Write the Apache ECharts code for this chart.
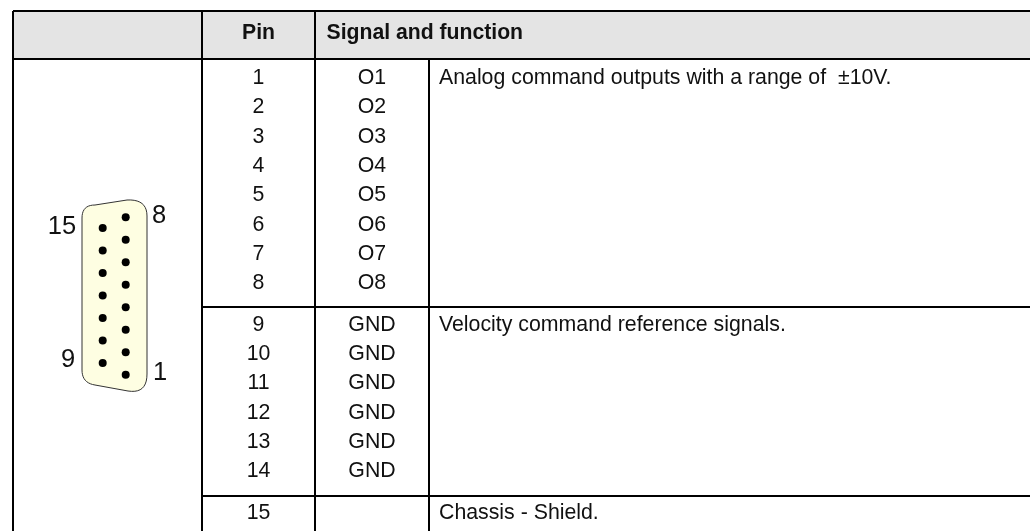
<!DOCTYPE html>
<html><head><meta charset="utf-8">
<style>html,body{margin:0;padding:0;background:#fff}#c{width:1030px;height:531px}</style>
<script src="https://cdn.jsdelivr.net/npm/echarts@6/dist/echarts.min.js"></script>
</head><body><div id="c"></div>
<script>
const headers = ['Pin', 'Signal and function'];
const pins = ['1','2','3','4','5','6','7','8','9','10','11','12','13','14','15'];
const signals = ['O1','O2','O3','O4','O5','O6','O7','O8','GND','GND','GND','GND','GND','GND',''];
const functions = [
  'Analog command outputs with a range of  \u00b110V.',
  'Velocity command reference signals.',
  'Chassis - Shield.'
];
const connectorLabels = ['15','8','9','1'];

// layout, in pixel units of the hidden axes
const X = {left:13, a:202, b:315, c:429, right:1031};
const Y = {top:11, head:59, g1:307, g2:496, bottom:532};
const rowY = i => i<8 ? 78+i*29.35 : i<14 ? 325+(i-8)*29.3 : 513;
const funcRow = [0,8,14];
const pinPos = n => n<=8 ? [125.7, 374.7-(n-1)*22.5] : [102.7, 363-(n-9)*22.5];
const labelPos = [[62,227],[159,216],[68,360],[160,373]];
const outline = [[82,218],[82,205,95,205],[127,200],[147,199,147,216],[147,374],[147,394,128,391],[95,385],[82,383,82,370]];

function outlinePts(){
  const out=[]; let p=outline[0]; out.push(p);
  for(const s of outline.slice(1)){
    if(s.length===2){out.push(s);p=s;}
    else{for(let t=.1;t<=1.001;t+=.1){const u=1-t;
      out.push([u*u*p[0]+2*u*t*s[0]+t*t*s[2],u*u*p[1]+2*u*t*s[1]+t*t*s[3]]);}
      p=[s[2],s[3]];}
  }
  return out;
}

const texts=[];
const font='"Liberation Sans", Helvetica, Arial, sans-serif';
const S=21.3, B=21.2;
texts.push({t:headers[0],x:258.5,y:33.5,a:'center',s:B,w:'bold'});
texts.push({t:headers[1],x:326.5,y:33.5,a:'left',s:B,w:'bold'});
pins.forEach((p,i)=>texts.push({t:p,x:258.5,y:rowY(i),a:'center',s:S}));
signals.forEach((p,i)=>{if(p)texts.push({t:p,x:372,y:rowY(i),a:'center',s:S});});
functions.forEach((f,i)=>texts.push({t:f,x:439,y:rowY(funcRow[i]),a:'left',s:S}));
connectorLabels.forEach((l,i)=>texts.push({t:l,x:labelPos[i][0],y:labelPos[i][1],a:'center',s:25.5}));

const rules=[
 [X.left,Y.top,X.right,Y.top],[X.left,Y.head,X.right,Y.head],
 [X.a,Y.g1,X.right,Y.g1],[X.a,Y.g2,X.right,Y.g2],
 [X.left,Y.top,X.left,Y.bottom],[X.a,Y.top,X.a,Y.bottom],[X.b,Y.top,X.b,Y.bottom],[X.c,Y.head,X.c,Y.bottom]
];

const chart=echarts.init(document.getElementById('c'),null,{renderer:'canvas'});
chart.setOption({
 animation:false,
 grid:{left:0,right:0,top:0,bottom:0},
 xAxis:{type:'value',min:0,max:1030,show:false},
 yAxis:{type:'value',min:0,max:531,inverse:true,show:false},
 series:[
  {type:'custom',z:1,silent:true,coordinateSystem:'cartesian2d',data:[[X.left,Y.top,X.right,Y.head]],
   renderItem:(p,api)=>{const a=api.coord([api.value(0),api.value(1)]),b=api.coord([api.value(2),api.value(3)]);
     return {type:'rect',shape:{x:a[0],y:a[1],width:b[0]-a[0],height:b[1]-a[1]},style:{fill:'#e4e4e4'}};}},
  {type:'custom',z:2,silent:true,coordinateSystem:'cartesian2d',data:rules,
   renderItem:(p,api)=>{const a=api.coord([api.value(0),api.value(1)]),b=api.coord([api.value(2),api.value(3)]);
     return {type:'line',shape:{x1:a[0],y1:a[1],x2:b[0],y2:b[1]},style:{stroke:'#000',lineWidth:2}};}},
  {type:'custom',z:3,silent:true,coordinateSystem:'cartesian2d',data:[[0,0]],
   renderItem:(p,api)=>({type:'polygon',shape:{points:outlinePts().map(q=>api.coord(q))},style:{fill:'#fefee2',stroke:'#333',lineWidth:1}})},
  {type:'scatter',z:4,silent:true,symbol:'circle',symbolSize:8,itemStyle:{color:'#000',opacity:1},
   data:pins.map(n=>pinPos(+n))},
  {type:'custom',z:5,silent:true,coordinateSystem:'cartesian2d',data:texts.map((d,i)=>[d.x,d.y,i]),
   renderItem:(p,api)=>{const d=texts[api.value(2)],c=api.coord([d.x,d.y]);
     return {type:'text',x:c[0],y:c[1],style:{text:d.t,fill:'#111',font:(d.w||'normal')+' '+d.s+'px '+font,textAlign:d.a,textVerticalAlign:'middle'}};}}
 ]
});
</script></body></html>
